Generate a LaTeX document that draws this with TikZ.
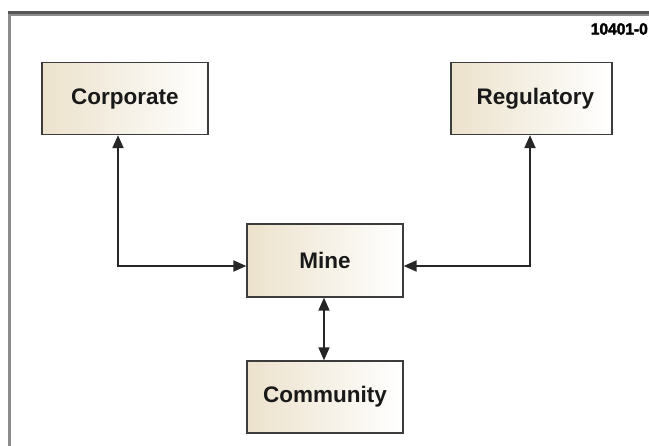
\documentclass[tikz,border=0pt]{standalone}
\usepackage{fontspec}
\setmainfont{Liberation Sans}
\newfontfamily\tagfont[FakeBold=2.5]{Liberation Sans Bold}
\usetikzlibrary{arrows.meta}
\definecolor{boxbeige}{RGB}{236,226,204}
\definecolor{boxline}{RGB}{60,60,60}
\definecolor{framegray}{RGB}{140,140,140}
\definecolor{framedark}{RGB}{85,85,85}
\tikzset{
  entity/.style={rectangle, draw=boxline, line width=1.3pt, left color=boxbeige, right color=white,
    font=\fontsize{22.5}{26}\selectfont\bfseries, text=black!90, inner sep=0pt},
  link/.style={line width=2pt, draw=black!85, {Triangle[length=13pt,width=11pt]}-{Triangle[length=13pt,width=11pt]}},
  tag/.style={font=\tagfont\fontsize{16}{18}\selectfont, anchor=east, inner sep=0pt}
}
\begin{document}
\begin{tikzpicture}[x=1pt,y=-1pt]
\useasboundingbox (0,0) rectangle (649,446);
\begin{scope}
\clip (0,0) rectangle (649,446);
% frame
\draw[framegray, line width=3.5pt] (9.5,13) -- (9.5,450);
\draw[framedark, line width=3pt] (8,13) -- (655,13);
\draw[framegray, line width=1.5pt] (11,15) -- (655,15);
\end{scope}
\node[tag] (tag) at (648,29) {\scalebox{0.97}[1]{10401-0}};

\node[entity, minimum width=166pt, minimum height=72pt] (corp) at (125,98.5) {Corporate};
\node[entity, minimum width=161pt, minimum height=72pt] (reg) at (531.5,98.5) {\hspace{8pt}Regulatory};
\node[entity, minimum width=156pt, minimum height=73pt] (mine) at (325,260.5) {Mine};
\node[entity, minimum width=156pt, minimum height=72pt] (comm) at (325,397) {Community};

\coordinate (cl) at (118,266);
\coordinate (cr) at (530,266);
\coordinate (cm) at (324,266);

\draw[link] (corp.south -| cl) |- (mine.west |- cl);
\draw[link] (reg.south -| cr) |- (mine.east |- cr);
\draw[link, line width=1.6pt] (mine.south -| cm) -- (comm.north -| cm);
\end{tikzpicture}
\end{document}
